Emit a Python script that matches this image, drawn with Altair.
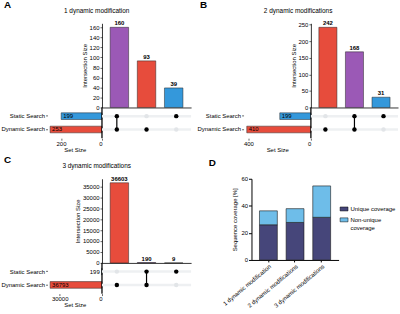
import altair as alt
import pandas as pd

FONT = "Liberation Sans"
FS = 6

SETS = ["Static Search", "Dynamic Search"]
SET_COLORS = ["#3498db", "#e74c3c"]
INTER_KEYS = ["Static Search & Dynamic Search", "Dynamic Search", "Static Search"]
INTER_COLORS = ["#9b59b6", "#e74c3c", "#3498db"]
INTER_MEMBERS = {
    "Static Search & Dynamic Search": ["Static Search", "Dynamic Search"],
    "Dynamic Search": ["Dynamic Search"],
    "Static Search": ["Static Search"],
}

A_TITLE = "1 dynamic modification"
A_ORDER = ["Static Search & Dynamic Search", "Dynamic Search", "Static Search"]
A_COUNTS = [160, 93, 39]
A_SET_SIZES = [199, 253]
A_INTER_TICKS = [0, 20, 40, 60, 80, 100, 120, 140, 160]
A_SIZE_TICKS = [0, 100, 200]

B_TITLE = "2 dynamic modifications"
B_ORDER = ["Dynamic Search", "Static Search & Dynamic Search", "Static Search"]
B_COUNTS = [242, 168, 31]
B_SET_SIZES = [199, 410]
B_INTER_TICKS = [0, 50, 100, 150, 200, 250]
B_SIZE_TICKS = [0, 100, 200, 300, 400]

C_TITLE = "3 dynamic modifications"
C_ORDER = ["Dynamic Search", "Static Search & Dynamic Search", "Static Search"]
C_COUNTS = [36603, 190, 9]
C_SET_SIZES = [199, 36793]
C_INTER_TICKS = [0, 5000, 10000, 15000, 20000, 25000, 30000, 35000]
C_SIZE_TICKS = [0, 10000, 20000, 30000]

D_CATEGORIES = ["1 dynamic modification", "2 dynamic modifications", "3 dynamic modifications"]
D_SERIES = ["Unique coverage", "Non-unique coverage"]
D_UNIQUE = [26.0, 27.7, 31.5]
D_NON_UNIQUE = [10.3, 10.2, 23.2]
D_COLORS = ["#46467a", "#6ebde9"]
D_TICKS = [0, 20, 40, 60]


def upset(label, title, order, counts, set_sizes, inter_ticks, size_ticks, size_w, inter_w):
    inter_df = pd.DataFrame({"inter": order, "count": counts})
    xscale = alt.Scale(domain=order, paddingInner=0.32, paddingOuter=0.3)
    inter_color = alt.Color("inter:N", scale=alt.Scale(domain=INTER_KEYS, range=INTER_COLORS), legend=None)
    ymax = max(counts) * 1.05
    base = alt.Chart(inter_df).encode(
        x=alt.X("inter:N", sort=order, scale=xscale,
                axis=alt.Axis(labels=False, ticks=False, title=None, domainColor="black", domainWidth=0.8)),
        y=alt.Y("count:Q", scale=alt.Scale(domain=[0, ymax], nice=False),
                axis=alt.Axis(values=inter_ticks, format="d", title="Intersection Size",
                              labelFontSize=FS, titleFontSize=FS, titleFontWeight="normal",
                              tickSize=2, labelPadding=1, titlePadding=2, domainWidth=0.8,
                              tickWidth=0.6, grid=False)),
    )
    bars = base.mark_bar(stroke="#222222", strokeWidth=0.5).encode(color=inter_color)
    txt = base.mark_text(baseline="bottom", dy=-1, fontSize=FS, fontWeight="bold", color="black").encode(
        text=alt.Text("count:Q", format="d"))
    inter = alt.layer(bars, txt).properties(width=inter_w, height=85)

    size_df = pd.DataFrame({"set": SETS, "size": set_sizes})
    size_df["inside"] = size_df["size"] > 0.2 * max(set_sizes)
    yscale = alt.Scale(domain=SETS, paddingInner=0.5, paddingOuter=0.4)
    smax = max(set_sizes) * 1.05
    sbase = alt.Chart(size_df).encode(
        x=alt.X("size:Q", scale=alt.Scale(domain=[0, smax], reverse=True, nice=False),
                axis=alt.Axis(values=size_ticks, format="d", title="Set Size", domain=False,
                              labelFontSize=FS, titleFontSize=FS, titleFontWeight="normal",
                              tickSize=2, tickWidth=0.6, labelPadding=0, titlePadding=0, grid=False)),
        y=alt.Y("set:N", sort=SETS, scale=yscale,
                axis=alt.Axis(title=None, domain=False, ticks=True, tickSize=2, tickWidth=0.6,
                              labelFontSize=FS, labelPadding=1)),
    )
    sbars = sbase.mark_bar(stroke="#222222", strokeWidth=0.5).encode(
        color=alt.Color("set:N", scale=alt.Scale(domain=SETS, range=SET_COLORS), legend=None))
    zero = alt.Chart(size_df).mark_rule(color="black", strokeWidth=0.8).encode(x=alt.datum(0))
    lab_in = sbase.mark_text(align="left", dx=2, fontSize=FS, baseline="middle", color="black").encode(
        text=alt.Text("size:Q", format="d")).transform_filter("datum.inside")
    lab_out = sbase.mark_text(align="right", dx=-2, fontSize=FS, baseline="middle", color="black").encode(
        text=alt.Text("size:Q", format="d")).transform_filter("!datum.inside")
    sizes = alt.layer(sbars, zero, lab_in, lab_out).properties(width=size_w, height=31)

    rows = []
    for k in order:
        mem = INTER_MEMBERS[k]
        for s in SETS:
            rows.append({"inter": k, "set": s, "on": s in mem, "multi": len(mem) > 1})
    mat_df = pd.DataFrame(rows)
    mx = alt.X("inter:N", sort=order, scale=xscale, axis=None)
    my = alt.Y("set:N", sort=SETS, scale=yscale, axis=None)
    stripes = alt.Chart(size_df).mark_rule(color="#eef0f2", strokeWidth=2.5).encode(y=my)
    links = alt.Chart(mat_df).transform_filter("datum.on && datum.multi").mark_line(
        color="black", strokeWidth=1.2).encode(x=mx, y=my, detail="inter:N")
    dots = alt.Chart(mat_df).mark_circle(size=20, opacity=1).encode(
        x=mx, y=my, color=alt.condition("datum.on", alt.value("black"), alt.value("#e2e5e8")))
    matrix = alt.layer(stripes, links, dots).properties(width=inter_w, height=31)

    spacer = alt.Chart(pd.DataFrame({"v": [0]})).mark_point(opacity=0).properties(width=size_w, height=85)

    grid = alt.concat(spacer, inter, sizes, matrix, columns=2, spacing=0, bounds="flush", align="each").properties(
        title=alt.Title(title, fontSize=6.5, fontWeight="normal", anchor="middle", offset=6)
    ).resolve_scale(color="independent")
    return alt.vconcat(grid, title=alt.Title(label, anchor="start", fontSize=10, fontWeight="bold",
                                             offset=-2, dx=3)).resolve_scale(color="independent")


pA = upset("A", A_TITLE, A_ORDER, A_COUNTS, A_SET_SIZES, A_INTER_TICKS, A_SIZE_TICKS, 55, 90)
pB = upset("B", B_TITLE, B_ORDER, B_COUNTS, B_SET_SIZES, B_INTER_TICKS, B_SIZE_TICKS, 68, 88)
pC = upset("C", C_TITLE, C_ORDER, C_COUNTS, C_SET_SIZES, C_INTER_TICKS, C_SIZE_TICKS, 55, 90)

d_rows = []
for i, c in enumerate(D_CATEGORIES):
    d_rows.append({"cat": c, "series": D_SERIES[0], "value": D_UNIQUE[i], "ord": 0})
    d_rows.append({"cat": c, "series": D_SERIES[1], "value": D_NON_UNIQUE[i], "ord": 1})
dd = pd.DataFrame(d_rows)

pD = alt.Chart(dd).mark_bar(stroke="#1a1a1a", strokeWidth=0.6).encode(
    x=alt.X("cat:N", sort=D_CATEGORIES, scale=alt.Scale(paddingInner=0.33, paddingOuter=0.3),
            axis=alt.Axis(title=None, labelAngle=-40, labelFontSize=FS, labelPadding=1,
                          tickSize=2, domainWidth=1)),
    y=alt.Y("value:Q", stack="zero", scale=alt.Scale(domain=[0, 60], nice=False),
            axis=alt.Axis(values=D_TICKS, title="Sequence coverage [%]", titleFontSize=FS,
                          titleFontWeight="normal", labelFontSize=FS, tickSize=3,
                          labelPadding=1, titlePadding=3, domainWidth=1)),
    color=alt.Color("series:N", sort=D_SERIES, scale=alt.Scale(domain=D_SERIES, range=D_COLORS),
                    legend=alt.Legend(title=None, orient="none", legendX=89, legendY=26, labelFontSize=FS,
                                      labelOffset=2, padding=0,
                                      symbolType="M-1,-0.5L1,-0.5L1,0.5L-1,0.5Z", symbolSize=64,
                                      symbolStrokeColor="black", symbolStrokeWidth=0.5, rowPadding=3,
                                      labelExpr="datum.label == 'Non-unique coverage' ? ['Non-unique', 'coverage'] : datum.label")),
    order=alt.Order("ord:Q", sort="ascending"),
).properties(width=88, height=82,
             title=alt.Title("D", anchor="start", fontSize=10, fontWeight="bold", dx=-13, offset=8))

row1 = alt.hconcat(pA, pB, spacing=3).resolve_scale(color="independent")
row2 = alt.hconcat(pC, pD, spacing=15).resolve_scale(color="independent")
chart = alt.vconcat(row1, row2, spacing=3).resolve_scale(color="independent").properties(
    padding={"left": 0, "top": -2, "right": 0, "bottom": 0}
).configure(font=FONT).configure_view(stroke=None).configure_axis(
    grid=False, labelColor="black", titleColor="black", domainColor="black", tickColor="black"
).configure_title(color="black")

chart.save("out.html", embed_options={"renderer": "svg", "actions": False})
